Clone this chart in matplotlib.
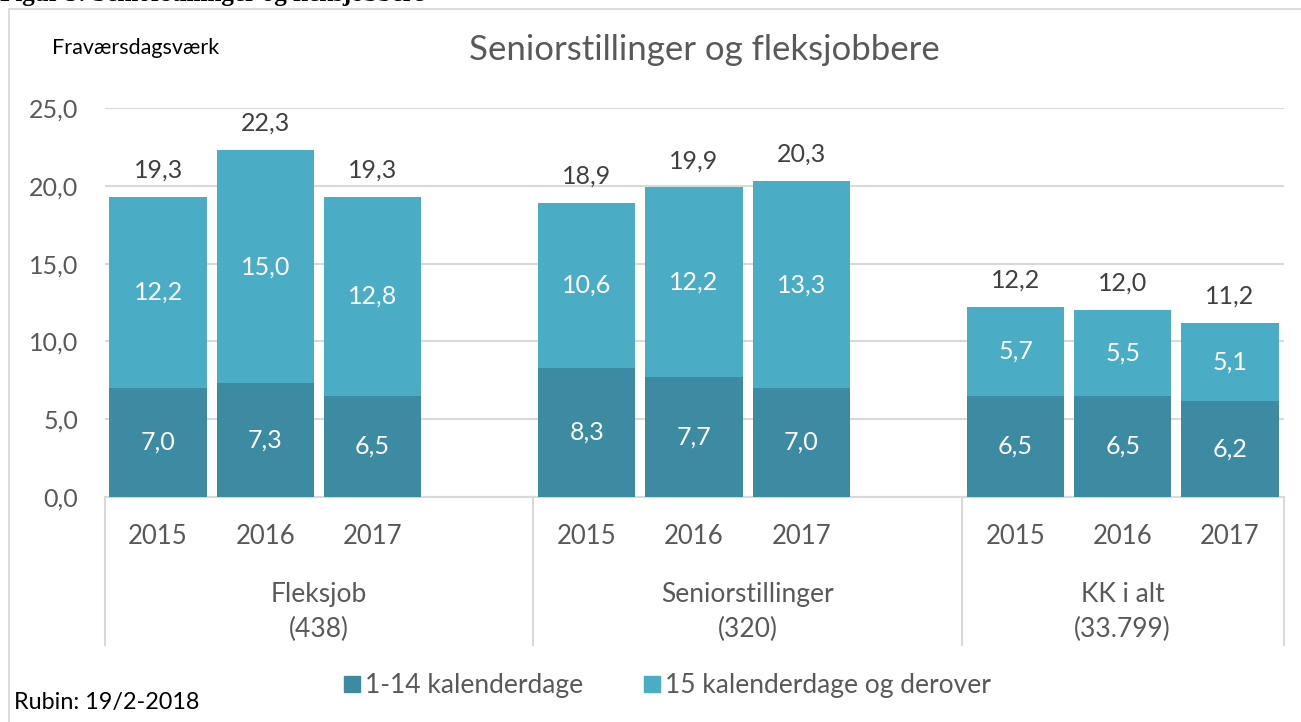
import matplotlib
matplotlib.use("Agg")
import matplotlib.pyplot as plt
from matplotlib.lines import Line2D
from matplotlib.patches import Rectangle
import matplotlib.transforms as mtrans

plt.rcParams['font.family'] = ['Lato', 'DejaVu Sans']

# ---- data ----
groups = ["Fleksjob\n(438)", "Seniorstillinger\n(320)", "KK i alt\n(33.799)"]
years = ["2015", "2016", "2017"]
short_days = [7.0, 7.3, 6.5, 8.3, 7.7, 7.0, 6.5, 6.5, 6.2]        # 1-14 kalenderdage
long_days = [12.2, 15.0, 12.8, 10.6, 12.2, 13.3, 5.7, 5.5, 5.1]    # 15 kalenderdage og derover
totals = [19.3, 22.3, 19.3, 18.9, 19.9, 20.3, 12.2, 12.0, 11.2]
yticks = [0, 5, 10, 15, 20, 25]

series_names = ["1-14 kalenderdage", "15 kalenderdage og derover"]
dark_col = "#3D8AA3"
light_col = "#4BACC6"
grid_col = "#D9D9D9"
text_col = "#595959"
label_col = "#404040"

W, H = 1301, 722
fig = plt.figure(figsize=(W / 100, H / 100), dpi=100)

def fx(px):
    return px / W

def fy(py):
    return 1 - py / H

# outer frame
fig.patches.append(Rectangle((fx(8.5), -0.1), 1.2, fy(8.5) + 0.1, transform=fig.transFigure,
                             fill=False, edgecolor=grid_col, lw=1.3))

# cut-off figure caption at the very top (only descenders visible, as in the source)
fig.text(fx(0), fy(0.5), "Figur 5: Seniorstillinger og fleksjobbere", family="Liberation Serif",
         fontweight="bold", fontsize=18, color="black", ha="left", va="baseline")

ax_left, ax_right, ax_top, ax_bot = 104.5, 1283.5, 108, 497
ax = fig.add_axes([fx(ax_left), fy(ax_bot), fx(ax_right - ax_left), (ax_bot - ax_top) / H])

# positions: 3 bars per group, one blank slot between groups
xpos = []
for g in range(len(groups)):
    for i in range(len(years)):
        xpos.append(g * 4 + i)

bw = 0.907
light_heights = [t - s for t, s in zip(totals, short_days)]
ax.bar(xpos, short_days, width=bw, color=dark_col, zorder=3)
ax.bar(xpos, light_heights, bottom=short_days, width=bw, color=light_col, zorder=3)

def fmt(v):
    return f"{v:.1f}".replace(".", ",")

for x, s, l, t in zip(xpos, short_days, long_days, totals):
    ax.text(x, s / 2, fmt(s), ha="center", va="center", color="white", fontsize=18, zorder=4)
    ax.text(x, s + (t - s) / 2, fmt(l), ha="center", va="center", color="white", fontsize=18, zorder=4)
    ax.annotate(fmt(t), (x, t), xytext=(0, 11), textcoords="offset points",
                ha="center", va="bottom", color=label_col, fontsize=18)

ax.set_xlim(-0.5, 10.5)
ax.set_ylim(0, 25)
ax.set_yticks(yticks)
ax.set_yticklabels([fmt(v) for v in yticks], fontsize=18, color=text_col)
ax.tick_params(axis="y", length=0, pad=19)
ax.set_xticks([])
ax.grid(axis="y", color=grid_col, lw=1.5, zorder=0)
for sp in ["top", "right", "left"]:
    ax.spines[sp].set_visible(False)
ax.spines["bottom"].set_color(grid_col)
ax.spines["bottom"].set_linewidth(1.5)

# multi-level category axis
blend = mtrans.blended_transform_factory(ax.transData, ax.transAxes)
def ay(py):
    return (ax_bot - py) / (ax_bot - ax_top)

for sep in [-0.5, 3.5, 7.5, 10.5]:
    ax.add_line(Line2D([sep, sep], [0, ay(645)], transform=blend, color=grid_col, lw=1.5, clip_on=False))

for x, k in zip(xpos, range(len(xpos))):
    ax.text(x, ay(536), years[k % 3], transform=blend, ha="center", va="center",
            fontsize=18.5, color=text_col)

group_centers = [1.5, 5.5, 9.0]
for c, g in zip(group_centers, groups):
    ax.text(c, ay(612), g, transform=blend, ha="center", va="center", fontsize=19,
            color=text_col, linespacing=1.45)

# titles
fig.text(fx(704), fy(50), "Seniorstillinger og fleksjobbere", ha="center", va="center",
         fontsize=25, color=text_col)
fig.text(fx(52), fy(48), "Fraværsdagsværk", ha="left", va="center", fontsize=15.5, color="black")
fig.text(fx(14), fy(703), "Rubin: 19/2-2018", ha="left", va="center", fontsize=16.8, color="black")

# legend
handles = [Line2D([], [], marker="s", ls="none", markersize=11, color=dark_col),
           Line2D([], [], marker="s", ls="none", markersize=11, color=light_col)]
fig.legend(handles, series_names, loc="center", bbox_to_anchor=(fx(666), fy(686)), ncol=2,
           frameon=False, fontsize=19, labelcolor=text_col, handletextpad=0.1,
           columnspacing=2.2, handlelength=0.8)

fig.savefig("out.png", dpi=100)
